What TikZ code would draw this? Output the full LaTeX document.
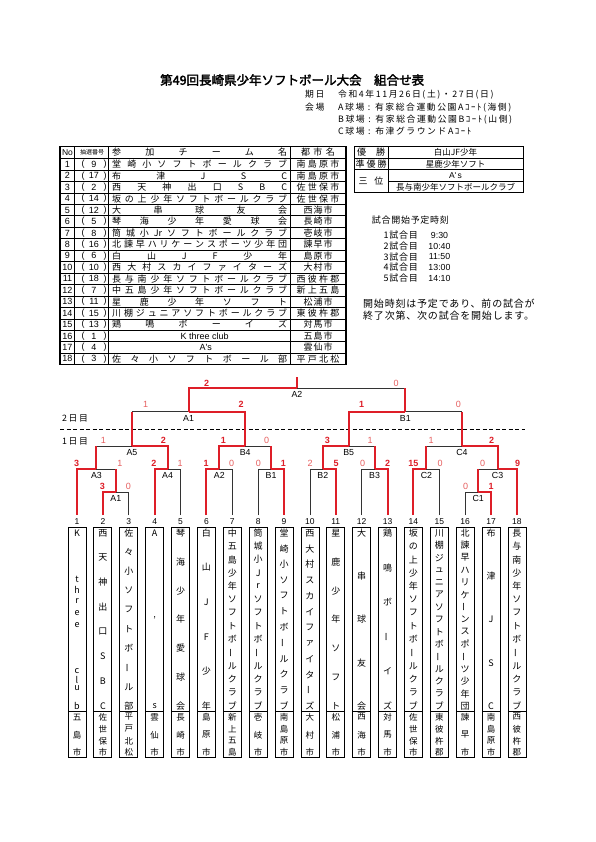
\documentclass[tikz,border=0pt]{standalone}
\usepackage{fontspec}
\usepackage{graphicx}
\setmainfont{Noto Sans CJK JP}[AutoFakeBold=2.5]
\newfontfamily\lat{Liberation Sans}
\newfontfamily\jsp{Noto Sans CJK JP}[LetterSpace=8]
\newfontfamily\jspw{Noto Sans CJK JP}[LetterSpace=18]
\definecolor{rd}{RGB}{222,30,40}
\definecolor{rdl}{RGB}{230,95,95}
% spread characters across a box
\def\sprdEnd{\relax}
\def\sprdEndMac{\sprdEnd}
\newcommand\sprd[1]{\sprdA#1\sprdEnd}
\def\sprdA#1{#1\sprdB}
\def\sprdB#1{\def\sprdTmp{#1}\ifx\sprdTmp\sprdEndMac\else\hfill#1\expandafter\sprdB\fi}
\newcommand\spr[2]{\makebox[#1]{\sprd{#2}}}
\newcommand\vb{\rotatebox[origin=c]{90}{ー}}
\tikzset{
  tb/.style={font=\fontsize{9}{10}\selectfont, inner sep=0pt},
  tbl/.style={font=\lat\fontsize{9}{10}\selectfont, inner sep=0pt},
  info/.style={font=\jspw\fontsize{8.8}{10}\selectfont, inner sep=0pt, anchor=west},
  bk/.style={draw=black!80, line width=0.6pt},
  rl/.style={draw=rd, line width=2pt},
  win/.style={font=\lat\bfseries\fontsize{9}{10}\selectfont, text=rd, inner sep=0pt},
  lose/.style={font=\lat\fontsize{9}{10}\selectfont, text=rdl, inner sep=0pt},
  mlab/.style={font=\lat\fontsize{8.8}{10}\selectfont, inner sep=0pt},
  vch/.style={font=\fontsize{9}{10}\selectfont, inner sep=0pt},
  cch/.style={font=\fontsize{8.5}{9}\selectfont, inner sep=0pt},
  tbox/.style={draw, line width=0.8pt, minimum width=18pt, inner sep=0pt},
}
\newcommand\vcol[6]{% style, name, x, ytop, ybot, list
  \foreach \vitem [count=\k] in {#6}{\xdef\vnum{\k}}%
  \foreach \vitem [count=\k] in {#6}{%
    \pgfmathsetmacro\vy{#4+(#5-#4)*(\k-1)/(\vnum-1)}%
    \node[#1] (#2-\k) at (#3,\vy) {\vitem};}%
}
\newcommand\trow[5]{%
  \pgfmathsetmacro\ty{158.5+(#1-0.5)*11.45}%
  \node[tbl] (no#1) at (67.5,\ty) {#2};
  \node[tbl] (lp#1) at (83,\ty) {(};
  \node[tbl] (ds#1) at (94,\ty) {#3};
  \node[tbl] (rp#1) at (105,\ty) {)};
  \node[tb,anchor=west] (tm#1) at (112,\ty) {#4};
  \node[tb] (ct#1) at (318,\ty) {#5};
}
\begin{document}
\begin{tikzpicture}[x=1pt,y=-1pt]
\useasboundingbox (0,0) rectangle (595,842);
\fill[white] (0,0) rectangle (595,842);

% ---------- title and info ----------
\node[anchor=west, inner sep=0pt, font=\bfseries\fontsize{12.5}{14}\selectfont] (title) at (160,80) {第49回長崎県少年ソフトボール大会　組合せ表};
\node[info] (kijitsu) at (305,94.3) {期日};
\node[info] (date) at (338,94.3) {令和4年11月26日(土)・27日(日)};
\node[info] (kaijo) at (305,107.3) {会場};
\node[info] (ca) at (338,107.3) {A球場 : 有家総合運動公園Aｺｰﾄ(海側)};
\node[info] (cb) at (338,119.3) {B球場 : 有家総合運動公園Bｺｰﾄ(山側)};
\node[info] (cc) at (338,130.8) {C球場 : 布津グラウンドAｺｰﾄ};

% ---------- entry table ----------
\draw[line width=0.5pt] \foreach \r in {1,...,17} {(60,158.5+\r*11.45) -- (346,158.5+\r*11.45)};
\draw[line width=0.5pt] (74.5,146.5) -- (74.5,364.6) (108.5,146.5) -- (108.5,364.6) (290,146.5) -- (290,364.6);
\draw[line width=1pt] (60,158.5) -- (346,158.5);
\draw[line width=1.1pt] (60,146.5) rectangle (346,364.6);
\node[tbl, font=\lat\fontsize{8.5}{9}\selectfont] (hno) at (67.5,152.5) {No};
\node[tb, font=\fontsize{6}{7}\selectfont] (hds) at (92,152.5) {抽選番号};
\node[tb, anchor=west] (htm) at (112,152.5) {\spr{175pt}{参加チーム名}};
\node[tb] (hct) at (318,152.5) {\spr{34pt}{都市名}};
\trow{1}{1}{9}{\spr{175pt}{堂崎小ソフトボールクラブ}}{\spr{43pt}{南島原市}}
\trow{2}{2}{17}{\spr{175pt}{布津JSC}}{\spr{43pt}{南島原市}}
\trow{3}{3}{2}{\spr{175pt}{西天神出口SBC}}{\spr{43pt}{佐世保市}}
\trow{4}{4}{14}{\spr{175pt}{坂の上少年ソフトボールクラブ}}{\spr{43pt}{佐世保市}}
\trow{5}{5}{12}{\spr{175pt}{大串球友会}}{\spr{29pt}{西海市}}
\trow{6}{6}{5}{\spr{175pt}{琴海少年愛球会}}{\spr{29pt}{長崎市}}
\trow{7}{7}{8}{\spr{175pt}{筒城小{Jr}ソフトボールクラブ}}{\spr{29pt}{壱岐市}}
\trow{8}{8}{16}{\spr{175pt}{北諫早ハリケーンスポーツ少年団}}{\spr{29pt}{諫早市}}
\trow{9}{9}{6}{\spr{175pt}{白山JF少年}}{\spr{29pt}{島原市}}
\trow{10}{10}{10}{\spr{175pt}{西大村スカイファイターズ}}{\spr{29pt}{大村市}}
\trow{11}{11}{18}{\spr{175pt}{長与南少年ソフトボールクラブ}}{\spr{43pt}{西彼杵郡}}
\trow{12}{12}{7}{\spr{175pt}{中五島少年ソフトボールクラブ}}{\spr{43pt}{新上五島}}
\trow{13}{13}{11}{\spr{175pt}{星鹿少年ソフト}}{\spr{29pt}{松浦市}}
\trow{14}{14}{15}{\spr{175pt}{川棚ジュニアソフトボールクラブ}}{\spr{43pt}{東彼杵郡}}
\trow{15}{15}{13}{\spr{175pt}{鶏鳴ボーイズ}}{\spr{29pt}{対馬市}}
\trow{16}{16}{1}{\makebox[175pt]{\hspace{10pt}\lat K three club}}{\spr{29pt}{五島市}}
\trow{17}{17}{4}{\makebox[175pt]{\hspace{12pt}\lat A's}}{\spr{29pt}{雲仙市}}
\trow{18}{18}{3}{\spr{175pt}{佐々小ソフトボール部}}{\spr{43pt}{平戸北松}}

% ---------- results table ----------
\draw[line width=0.6pt] (354,158.3) -- (523,158.3) (354,169.8) -- (523,169.8) (388,181.2) -- (523,181.2) (388,146.5) -- (388,192.5);
\draw[line width=1pt] (354,146.5) rectangle (523,192.5);
\node[tb] (r1l) at (371,152.4) {\spr{28pt}{優勝}};
\node[tb] (r2l) at (371,164) {\spr{31pt}{準優勝}};
\node[tb] (r3l) at (371,181.2) {\spr{25pt}{三位}};
\node[tb, font=\fontsize{8.5}{9}\selectfont] (r1v) at (455.5,152.4) {白山JF少年};
\node[tb, font=\fontsize{8.5}{9}\selectfont] (r2v) at (455.5,164) {星鹿少年ソフト};
\node[tb, font=\lat\fontsize{8.5}{9}\selectfont] (r3v) at (455.5,175.5) {A'\,s};
\node[tb, font=\fontsize{8.5}{9}\selectfont] (r4v) at (455.5,187) {長与南少年ソフトボールクラブ};

% ---------- schedule ----------
\node[info, font=\jsp\fontsize{9}{10}\selectfont] (sch) at (371.7,220) {試合開始予定時刻};
\foreach \g/\tm/\yy in {1/9:30/235, 2/10:40/246, 3/11:50/256.7, 4/13:00/267.3, 5/14:10/278.3}{
  \node[info, font=\jsp\fontsize{9}{10}\selectfont] (g\g) at (383.5,\yy) {\g 試合目};
  \node[tbl, font=\lat\fontsize{8.8}{10}\selectfont] (gt\g) at (439.5,\yy) {\tm};
}
\node[info, font=\jsp\fontsize{10}{11}\selectfont] (note1) at (363,304) {開始時刻は予定であり、前の試合が};
\node[info, font=\jsp\fontsize{10}{11}\selectfont] (note2) at (363,315.5) {終了次第、次の試合を開始します。};

% ---------- day separator ----------
\coordinate (dl) at (60,429);
\coordinate (dr) at (525,429);
\draw[line width=0.8pt, dash pattern=on 4pt off 2.5pt] (dl) -- (dr);
\node[info, font=\jspw\fontsize{8.8}{10}\selectfont] (day2) at (62,418) {2日目};
\node[info, font=\jspw\fontsize{8.8}{10}\selectfont] (day1) at (62,441.7) {1日目};

% ---------- team boxes ----------
\foreach \i in {1,...,18}{
  \pgfmathsetmacro\xx{77+(\i-1)*25.88}
  \coordinate (t\i) at (\xx,515);
  \node[mlab, font=\lat\fontsize{8.5}{9}\selectfont] (nm\i) at (\xx,521.7) {\i};
  \node[tbox, minimum height=184pt] (bx\i) at (\xx,619) {};
  \node[tbox, minimum height=46pt] (cbx\i) at (\xx,734) {};
}
% K three club
\foreach \ch/\yy [count=\k] in {K/533, t/579, h/590, r/601, e/613, e/625, c/671, l/679.5, u/688.5, b/706}{
  \node[vch] (v1-\k) at (77,\yy) {\ch};
}
\vcol{vch}{v2}{102.88}{533}{706}{西,天,神,出,口,S,B,C}
\vcol{vch}{v3}{128.76}{533}{706}{佐,々,小,ソ,フ,ト,ボ,\vb,ル,部}
\vcol{vch}{v4}{154.64}{533}{706}{A,',s}
\vcol{vch}{v5}{180.52}{533}{706}{琴,海,少,年,愛,球,会}
\vcol{vch}{v6}{206.4}{533}{706}{白,山,J,F,少,年}
\vcol{vch}{v7}{232.28}{533}{706}{中,五,島,少,年,ソ,フ,ト,ボ,\vb,ル,ク,ラ,ブ}
\vcol{vch}{v8}{258.16}{533}{706}{筒,城,小,J,r,ソ,フ,ト,ボ,\vb,ル,ク,ラ,ブ}
\vcol{vch}{v9}{284.04}{533}{706}{堂,崎,小,ソ,フ,ト,ボ,\vb,ル,ク,ラ,ブ}
\vcol{vch}{v10}{309.92}{533}{706}{西,大,村,ス,カ,イ,フ,ァ,イ,タ,\vb,ズ}
\vcol{vch}{v11}{335.8}{533}{706}{星,鹿,少,年,ソ,フ,ト}
\vcol{vch}{v12}{361.68}{533}{706}{大,串,球,友,会}
\vcol{vch}{v13}{387.56}{533}{706}{鶏,鳴,ボ,\vb,イ,ズ}
\vcol{vch}{v14}{413.44}{533}{706}{坂,の,上,少,年,ソ,フ,ト,ボ,\vb,ル,ク,ラ,ブ}
\vcol{vch}{v15}{439.32}{533}{706}{川,棚,ジ,ュ,ニ,ア,ソ,フ,ト,ボ,\vb,ル,ク,ラ,ブ}
\vcol{vch}{v16}{465.2}{533}{706}{北,諫,早,ハ,リ,ケ,\vb,ン,ス,ポ,\vb,ツ,少,年,団}
\vcol{vch}{v17}{491.08}{533}{706}{布,津,J,S,C}
\vcol{vch}{v18}{516.96}{533}{706}{長,与,南,少,年,ソ,フ,ト,ボ,\vb,ル,ク,ラ,ブ}
% cities
\vcol{cch}{w1}{77}{717}{752.7}{五,島,市}
\vcol{cch}{w2}{102.88}{717}{752.7}{佐,世,保,市}
\vcol{cch}{w3}{128.76}{717}{752.7}{平,戸,北,松}
\vcol{cch}{w4}{154.64}{717}{752.7}{雲,仙,市}
\vcol{cch}{w5}{180.52}{717}{752.7}{長,崎,市}
\vcol{cch}{w6}{206.4}{717}{752.7}{島,原,市}
\vcol{cch}{w7}{232.28}{717}{752.7}{新,上,五,島}
\vcol{cch}{w8}{258.16}{717}{752.7}{壱,岐,市}
\vcol{cch}{w9}{284.04}{717}{752.7}{南,島,原,市}
\vcol{cch}{w10}{309.92}{717}{752.7}{大,村,市}
\vcol{cch}{w11}{335.8}{717}{752.7}{松,浦,市}
\vcol{cch}{w12}{361.68}{717}{752.7}{西,海,市}
\vcol{cch}{w13}{387.56}{717}{752.7}{対,馬,市}
\vcol{cch}{w14}{413.44}{717}{752.7}{佐,世,保,市}
\vcol{cch}{w15}{439.32}{717}{752.7}{東,彼,杵,郡}
\vcol{cch}{w16}{465.2}{717}{752.7}{諫,早,市}
\vcol{cch}{w17}{491.08}{717}{752.7}{南,島,原,市}
\vcol{cch}{w18}{516.96}{717}{752.7}{西,彼,杵,郡}

% ---------- match points ----------
\coordinate (mA1) at (115.82,492);
\coordinate (mA3) at (96.41,469);
\coordinate (mA4) at (167.58,469);
\coordinate (mA5) at (131.99,446);
\coordinate (mA2) at (219.34,469);
\coordinate (mB1) at (271.1,469);
\coordinate (mB4) at (245.22,446);
\coordinate (mB2) at (322.86,469);
\coordinate (mB3) at (374.62,469);
\coordinate (mB5) at (348.74,446);
\coordinate (mC2) at (426.38,469);
\coordinate (mC1) at (478.14,492);
\coordinate (mC3) at (497.55,469);
\coordinate (mC4) at (461.96,446);
\coordinate (dA1) at (188.6,411.7);
\coordinate (dB1) at (405.35,411.7);
\coordinate (fA2) at (296.98,388);
\coordinate (ftop) at (296.98,377);

% black lines
\draw[bk] (t2|-mA1) -- (t3|-mA1) (t3) -- (t3|-mA1);
\draw[bk] (t1|-mA3) -- (mA1|-mA3);
\draw[bk] (t4|-mA4) -- (t5|-mA4) (t5) -- (t5|-mA4);
\draw[bk] (mA3|-mA5) -- (mA4|-mA5);
\draw[bk] (t6|-mA2) -- (t7|-mA2) (t7) -- (t7|-mA2);
\draw[bk] (t8|-mB1) -- (t9|-mB1) (t8) -- (t8|-mB1);
\draw[bk] (mA2|-mB4) -- (mB1|-mB4);
\draw[bk] (t10|-mB2) -- (t11|-mB2) (t10) -- (t10|-mB2);
\draw[bk] (t12|-mB3) -- (t13|-mB3) (t12) -- (t12|-mB3);
\draw[bk] (mB2|-mB5) -- (mB3|-mB5);
\draw[bk] (t14|-mC2) -- (t15|-mC2) (t15) -- (t15|-mC2);
\draw[bk] (t16|-mC1) -- (t17|-mC1) (t16) -- (t16|-mC1);
\draw[bk] (mC1|-mC3) -- (t18|-mC3);
\draw[bk] (mC2|-mC4) -- (mC3|-mC4);
\draw[bk] (mA5|-dA1) -- (mB4|-dA1);
\draw[bk] (mB5|-dB1) -- (mC4|-dB1);
\draw[bk] (dA1|-fA2) -- (dB1|-fA2);

% red (winning) lines
\draw[rl] (t2) |- (mA1);
\draw[rl] (t1) |- (mA3); \draw[rl] (mA1) -- (mA1|-mA3);
\draw[rl] (t4) |- (mA4);
\draw[rl] (mA4) |- (mA5); \draw[rl] (mA3) -- (mA3|-mA5);
\draw[rl] (t6) |- (mA2);
\draw[rl] (t9) |- (mB1);
\draw[rl] (mA2) |- (mB4); \draw[rl] (mB1) -- (mB1|-mB4);
\draw[rl] (t11) |- (mB2);
\draw[rl] (t13) |- (mB3);
\draw[rl] (mB2) |- (mB5); \draw[rl] (mB3) -- (mB3|-mB5);
\draw[rl] (t14) |- (mC2);
\draw[rl] (t17) |- (mC1);
\draw[rl] (t18) |- (mC3); \draw[rl] (mC1) -- (mC1|-mC3);
\draw[rl] (mC3) |- (mC4); \draw[rl] (mC2) -- (mC2|-mC4);
\draw[rl] (mB4) |- (dA1); \draw[rl] (mA5) -- (mA5|-dA1);
\draw[rl] (mB5) |- (dB1); \draw[rl] (mC4) -- (mC4|-dB1);
\draw[rl] (dA1) |- (fA2); \draw[rl] (dB1) -- (dB1|-fA2);
\draw[rl] (fA2) -- (ftop);

% match labels
\foreach \m/\lab in {mA1/A1, mA3/A3, mA4/A4, mA5/A5, mA2/A2, mB1/B1, mB4/B4, mB2/B2, mB3/B3, mB5/B5, mC2/C2, mC1/C1, mC3/C3, mC4/C4, dA1/A1, dB1/B1, fA2/A2}{
  \node[mlab] (l\m) at ([yshift=-6.7pt]\m) {\lab};
}

% scores
\node[win]  (sF1) at (206.7,383.3) {2};
\node[lose] (sF2) at (396,383.3) {0};
\node[lose] (sDA1a) at (145.7,404.3) {1};
\node[win]  (sDA1b) at (241,404.3) {2};
\node[win]  (sDB1a) at (361.7,404.3) {1};
\node[lose] (sDB1b) at (458.3,404.3) {0};
\node[lose] (sA5a) at (103.3,440.7) {1};
\node[win]  (sA5b) at (163.3,440.7) {2};
\node[win]  (sB4a) at (223.3,440.7) {1};
\node[lose] (sB4b) at (266.7,440.7) {0};
\node[win]  (sB5a) at (327.3,440.7) {3};
\node[lose] (sB5b) at (370,440.7) {1};
\node[lose] (sC4a) at (431,440.7) {1};
\node[win]  (sC4b) at (491.7,440.7) {2};
\node[win]  (sA3a) at (76.7,463.3) {3};
\node[lose] (sA3b) at (120,463.3) {1};
\node[win]  (sA4a) at (154,463.3) {2};
\node[lose] (sA4b) at (180,463.3) {1};
\node[win]  (sA2a) at (206,463.3) {1};
\node[lose] (sA2b) at (231.7,463.3) {0};
\node[lose] (sB1a) at (258.3,463.3) {0};
\node[win]  (sB1b) at (283.3,463.3) {1};
\node[lose] (sB2a) at (310,463.3) {2};
\node[win]  (sB2b) at (336,463.3) {5};
\node[lose] (sB3a) at (362.7,463.3) {0};
\node[win]  (sB3b) at (387.7,463.3) {2};
\node[win]  (sC2a) at (413.3,463.3) {15};
\node[lose] (sC2b) at (440,463.3) {0};
\node[lose] (sC3a) at (482.7,463.3) {0};
\node[win]  (sC3b) at (517.7,463.3) {9};
\node[win]  (sA1a) at (102.3,486) {3};
\node[lose] (sA1b) at (128.3,486) {0};
\node[lose] (sC1a) at (465.7,486) {0};
\node[win]  (sC1b) at (491,486) {1};
\end{tikzpicture}
\end{document}
